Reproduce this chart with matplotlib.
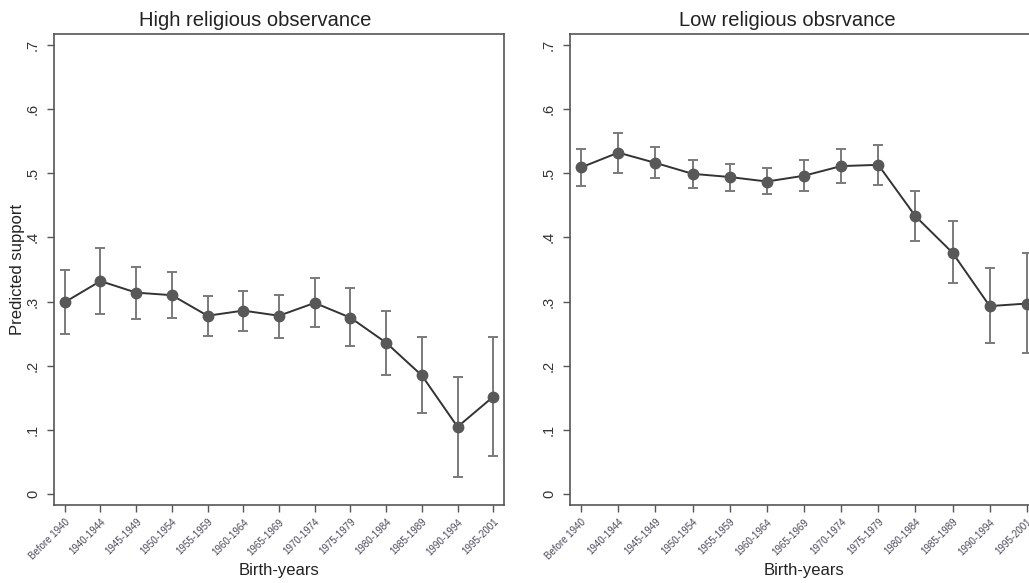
import numpy as np
import matplotlib
matplotlib.use("Agg")
import matplotlib.pyplot as plt

plt.rcParams['font.family'] = ['Liberation Sans', 'DejaVu Sans']

cohorts = ["Before 1940", "1940-1944", "1945-1949", "1950-1954", "1955-1959",
           "1960-1964", "1965-1969", "1970-1974", "1975-1979", "1980-1984",
           "1985-1989", "1990-1994", "1995-2001"]

# high religious observance
high_est = [0.299, 0.332, 0.314, 0.310, 0.278, 0.286, 0.278, 0.298, 0.275, 0.236, 0.185, 0.105, 0.152]
high_lo = [0.250, 0.281, 0.273, 0.275, 0.246, 0.255, 0.243, 0.261, 0.231, 0.186, 0.126, 0.027, 0.059]
high_hi = [0.349, 0.384, 0.354, 0.346, 0.309, 0.317, 0.311, 0.336, 0.321, 0.286, 0.245, 0.183, 0.245]

# low religious observance
low_est = [0.509, 0.532, 0.516, 0.499, 0.494, 0.487, 0.496, 0.511, 0.513, 0.433, 0.376, 0.293, 0.297]
low_lo = [0.480, 0.501, 0.493, 0.477, 0.473, 0.468, 0.473, 0.485, 0.482, 0.395, 0.329, 0.235, 0.220]
low_hi = [0.538, 0.563, 0.541, 0.520, 0.515, 0.508, 0.520, 0.538, 0.544, 0.472, 0.425, 0.352, 0.375]

yticks = [0, 0.1, 0.2, 0.3, 0.4, 0.5, 0.6, 0.7]
ytick_labels = ["0", ".1", ".2", ".3", ".4", ".5", ".6", ".7"]

W, H = 1029, 583
fig = plt.figure(figsize=(W / 100, H / 100), dpi=100)

panels = [
    ("High religious observance", high_est, high_lo, high_hi, [54, 505, 450, 471], 255),
    ("Low religious obsrvance", low_est, low_lo, low_hi, [570, 505, 468, 471], 787),
]

x = np.arange(len(cohorts))
for i, (title, est, lo, hi, box, tx) in enumerate(panels):
    l, b, w, h = box
    ax = fig.add_axes([l / W, 1 - b / H, w / W, h / H])
    est = np.array(est)
    yerr = [est - np.array(lo), np.array(hi) - est]
    ax.errorbar(x, est, yerr=yerr, fmt='none', ecolor='#7a7a7a', elinewidth=1.4,
                capsize=3.5, capthick=1.4, zorder=2)
    ax.plot(x, est, color='#333333', lw=1.4, marker='o', ms=7.5,
            mfc='#585858', mec='#585858', zorder=3)

    ax.set_xlim(-0.3, 12.3)
    ax.set_ylim(-0.0167, 0.7167)
    ax.set_yticks(yticks)
    ax.set_yticklabels(ytick_labels, rotation=90, va='center', fontsize=10.5, color='#333333')
    ax.set_xticks(x)
    ax.set_xticklabels(cohorts, rotation=45, ha='right', rotation_mode='anchor',
                       fontsize=7, color='#4a4a5a')
    ax.tick_params(axis='both', direction='out', length=5, width=1, color='#555555')
    ax.tick_params(axis='y', pad=5)
    for s in ax.spines.values():
        s.set_color('#555555')
        s.set_linewidth(1.2)
    fig.text((l + w / 2) / W, 1 - 571 / H, "Birth-years", ha='center', va='center',
             fontsize=12, color='#222222')
    if i == 0:
        fig.text(18 / W, 1 - 269 / H, "Predicted support", rotation=90, ha='center',
                 va='center', fontsize=12, color='#222222')
    fig.text(tx / W, 1 - 20 / H, title, ha='center', va='center', fontsize=14.5, color='#222222')

fig.savefig("out.png", dpi=100, facecolor='white')
